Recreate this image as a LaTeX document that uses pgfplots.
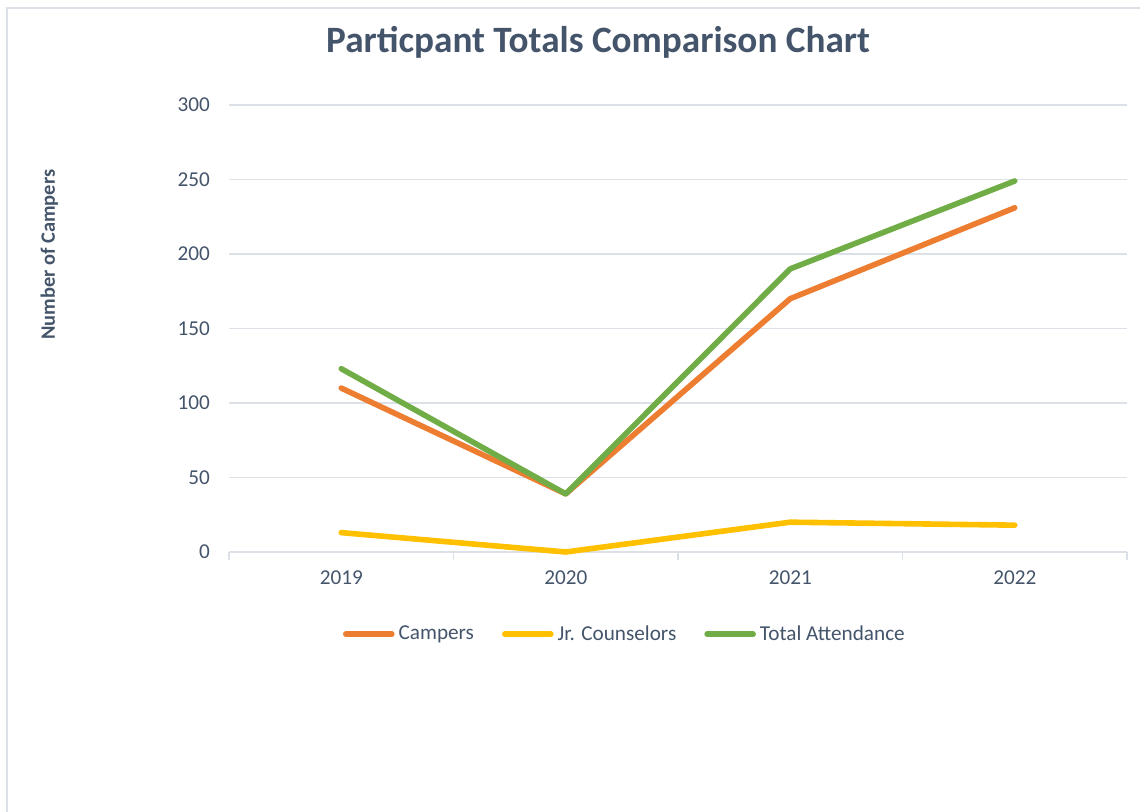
\documentclass[border=0pt]{standalone}
\usepackage{fontspec}
\setmainfont{Carlito}
\usepackage{pgfplots}
\pgfplotsset{compat=1.18}

\definecolor{campers}{HTML}{ED7D31}
\definecolor{jrc}{HTML}{FFC000}
\definecolor{total}{HTML}{70AD47}
\definecolor{txt}{HTML}{44546A}
\definecolor{gridc}{HTML}{DCE1E8}

\begin{document}
\begin{tikzpicture}
    % page 570pt x 406pt (1 px = 0.5 pt)
    \useasboundingbox (0,0) rectangle (570pt,406pt);
    \draw[gridc, line width=1pt] (3.5pt,0) -- (3.5pt,402pt) -- (570pt,402pt);

    \begin{axis}[
        at={(114.5pt,130pt)}, anchor=south west,
        scale only axis,
        width=449pt, height=223.5pt,
        xmin=-0.5, xmax=3.5,
        ymin=0, ymax=300,
        xtick={0,1,2,3},
        xticklabels={2019,2020,2021,2022},
        ytick={0,50,100,150,200,250,300},
        axis lines*=left,
        x axis line style={gridc, line width=0.8pt, -},
        y axis line style={draw=none},
        major tick length=0pt,
        ymajorgrids,
        grid style={gridc, line width=0.8pt},
        extra x ticks={-0.5,0.5,1.5,2.5,3.5},
        extra x tick labels={},
        extra x tick style={major tick length=4pt, tick align=outside,
            tick style={gridc, line width=0.8pt}, grid=none},
        tick label style={font=\fontsize{10.6}{12}\selectfont, text=txt},
        yticklabel style={xshift=-6pt},
        xticklabel style={yshift=-6pt},
        /pgf/number format/assume math mode=true,
        ylabel={\bfseries Number of Campers},
        ylabel style={font=\fontsize{10.2}{12}\selectfont, text=txt, at={(axis description cs:-0.2,0.665)}, anchor=center},
        title={\bfseries Particpant Totals Comparison Chart},
        title style={font=\fontsize{18.6}{22}\selectfont, text=txt, at={(axis description cs:0.411,1.09)}, anchor=base},
        legend columns=3,
        legend style={draw=none, fill=none, font=\fontsize{10.6}{12}\selectfont, text=txt,
            at={(axis description cs:0.442,-0.184)}, anchor=center,
            /tikz/every even column/.append style={column sep=12pt}},
        legend image code/.code={\draw[#1, line cap=round] (0pt,0pt) -- (23pt,0pt);},
        legend cell align=left,
        clip=false,
    ]
        \addplot[campers, line width=2.8pt, line join=round, line cap=round] coordinates {
            (0,110) (1,39) (2,170) (3,231)
        };
        \addlegendentry{Campers}
        \addplot[jrc, line width=2.8pt, line join=round, line cap=round] coordinates {
            (0,13) (1,0) (2,20) (3,18)
        };
        \addlegendentry{Jr. Counselors}
        \addplot[total, line width=2.8pt, line join=round, line cap=round] coordinates {
            (0,123) (1,39) (2,190) (3,249)
        };
        \addlegendentry{Total Attendance}
    \end{axis}
\end{tikzpicture}
\end{document}
